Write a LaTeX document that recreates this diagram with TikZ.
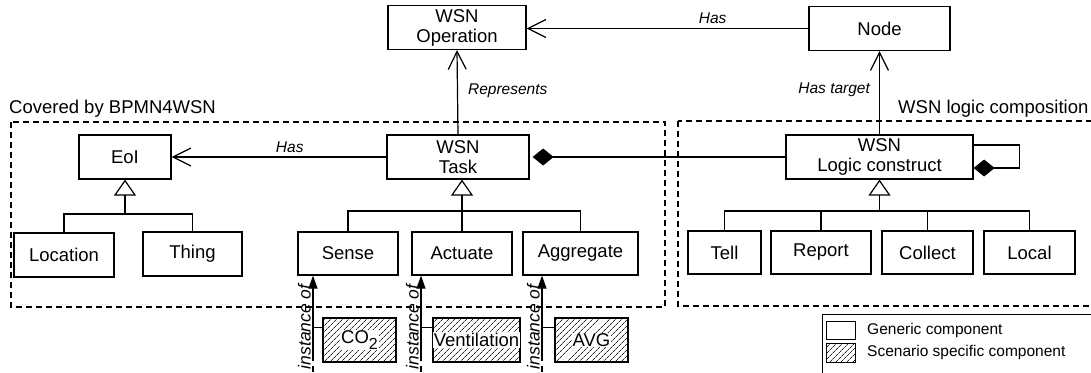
\documentclass[tikz,border=0pt]{standalone}
\usepackage{fontspec}
\setmainfont{Liberation Sans}
\usetikzlibrary{arrows.meta,patterns.meta}

\newcommand\boxfont{\fontsize{18.5}{20}\selectfont}
\newcommand\relfont{\fontsize{15.5}{18}\selectfont\itshape}
\newcommand\instfont{\fontsize{17.5}{19}\selectfont\itshape}
\newcommand\legfont{\fontsize{15.5}{18}\selectfont}
\newcommand\onwhite[1]{{\setlength\fboxsep{0.8pt}\colorbox{white}{#1}}}
\newcommand\lowsub[1]{\raisebox{-0.3em}{\fontsize{16}{16}\selectfont #1}}

\begin{document}
\begin{tikzpicture}[x=1pt,y=-1pt,
  umlbox/.style={draw,line width=1.2pt,minimum height=44pt,inner sep=0pt,
    align=center,font=\boxfont},
  scenario/.style={umlbox,pattern={Lines[angle=45,distance=4pt,line width=0.8pt]},
    pattern color=black!85},
  conn/.style={line width=1.2pt},
  openarrow/.style={-{Straight Barb[length=18pt,width=18pt,line width=1.2pt]}},
  inherit/.style={-{Triangle[open,length=16pt,width=22pt,line width=1.2pt]}},
  comp/.style={-{Diamond[length=21pt,width=17pt]}},
  instarrow/.style={-{Triangle[length=13pt,width=9pt]}},
  region/.style={line width=1.2pt,dash pattern=on 6pt off 4pt},
  rel/.style={font=\relfont,inner sep=1pt},
  regionlabel/.style={font=\boxfont,anchor=base west,inner sep=0pt},
]
\clip (0,0) rectangle (1091,372);

% grouping regions
\draw[region] (11,122) rectangle (665,307);
\node[regionlabel] (covlabel) at (9,113) {Covered by BPMN4WSN};
\draw[region] (678,121) rectangle (1110,306);
\node[regionlabel] (loglabel) at (898,113) {WSN logic composition};

% classes
\node[umlbox,minimum width=138pt] (op) at (457,27.5) {WSN\\Operation};
\node[umlbox,minimum width=141pt] (node) at (879.5,28.5) {Node};
\node[umlbox,minimum width=142pt] (task) at (458,157) {WSN\\Task};
\node[umlbox,minimum width=187pt] (logic) at (879.5,157) {WSN\\Logic construct};
\node[umlbox,minimum width=92pt] (eoi) at (125,157) {EoI};

\node[umlbox,minimum width=100pt] (location) at (64,255) {Location};
\node[umlbox,minimum width=99pt] (thing) at (192.5,254) {Thing};

\node[umlbox,minimum width=100pt,minimum height=43pt] (sense) at (348,253.5) {Sense};
\node[umlbox,minimum width=100pt,minimum height=43pt] (actuate) at (462,253.5) {Actuate};
\node[umlbox,minimum width=115pt,minimum height=43pt] (aggregate) at (580.5,253.5) {Aggregate};

\node[umlbox,minimum width=73pt,minimum height=43pt] (tell) at (724.5,252.5) {Tell};
\node[umlbox,minimum width=100pt,minimum height=43pt] (report) at (821,252.5) {Report};
\node[umlbox,minimum width=91pt,minimum height=43pt] (collect) at (927.5,252.5) {Collect};
\node[umlbox,minimum width=91pt,minimum height=43pt] (local) at (1029.5,252.5) {Local};

% scenario specific instances
\node[scenario,minimum width=73pt] (co2) at (359.5,340) {\onwhite{CO\lowsub{2}}};
\node[scenario,minimum width=87pt] (vent) at (476.5,340) {\onwhite{Ventilation}};
\node[scenario,minimum width=73pt] (avg) at (591.5,340) {\onwhite{AVG}};

% associations
\draw[conn,openarrow] (node.west) -- node[rel,above=3pt,pos=0.34] {Has} (node.west -| op.east);
\draw[conn,openarrow] (task.north) -- node[rel,right=9pt,pos=0.52] {Represents} (op.south);
\draw[conn,openarrow] (logic.north) -- node[rel,left=8pt,pos=0.53] {Has target} (logic.north |- node.south);
\draw[conn,openarrow] (task.west) -- node[rel,above=3pt,pos=0.45] {Has} (eoi.east);

% compositions
\draw[conn,comp,shorten >=3pt] (logic.west) -- (task.east);
\coordinate (lpA) at ([yshift=12pt]logic.east);
\coordinate (lpB) at ([yshift=-11pt]logic.east);
\draw[conn,comp] (lpA) -- ++(46,0) |- (lpB);

% generalisations
\coordinate (gbarL) at (125,214);
\draw[conn] (location.north) |- (gbarL) -| (thing.north);
\draw[conn,inherit] (gbarL) -- (eoi.south);

\coordinate (gbarT) at (462,211);
\draw[conn] (sense.north) |- (gbarT) -| (aggregate.north);
\draw[conn] (actuate.north) -- (gbarT);
\draw[conn,inherit] (gbarT) -- (gbarT |- task.south);

\coordinate (gbarR) at (879.5,211);
\draw[conn] (tell.north) |- (gbarR) -| (local.north);
\draw[conn] (report.north) -- (report.north |- gbarR);
\draw[conn] (collect.north) -- (collect.north |- gbarR);
\draw[conn,inherit] (gbarR) -- (logic.south);

% instance-of links
\foreach \ins/\cls/\xx in {co2/sense/313, vent/actuate/421, avg/aggregate/542}{
  \coordinate (i-\ins) at (\xx,361);
  \coordinate (ie-\ins) at (\xx,372);
  \coordinate (t-\ins) at ([yshift=-10pt]\ins.north west);
  \draw[conn,instarrow] (i-\ins) -- node[font=\instfont,rotate=90,anchor=south,pos=0.4,inner sep=1.5pt] {instance of} (i-\ins |- \cls.south);
  \draw[conn,dash pattern=on 0pt off 5pt on 8pt] (i-\ins) -- (ie-\ins);
  \draw[conn] (t-\ins) -- (t-\ins -| i-\ins);
}

% legend
\draw[line width=1pt] (822,314) rectangle (1110,390);
\node[draw,line width=1pt,minimum width=29pt,minimum height=18pt,inner sep=0pt] (lgen) at (840.5,330) {};
\node[draw,line width=1pt,minimum width=29pt,minimum height=19pt,inner sep=0pt,
  pattern={Lines[angle=45,distance=4pt,line width=0.7pt]},pattern color=black!85] (lscn) at (840.5,352.5) {};
\node[font=\legfont,anchor=west,inner sep=0pt] (lgentext) at (867,330) {Generic component};
\node[font=\legfont,anchor=west,inner sep=0pt] (lscntext) at (867,352.5) {Scenario specific component};
\end{tikzpicture}
\end{document}
